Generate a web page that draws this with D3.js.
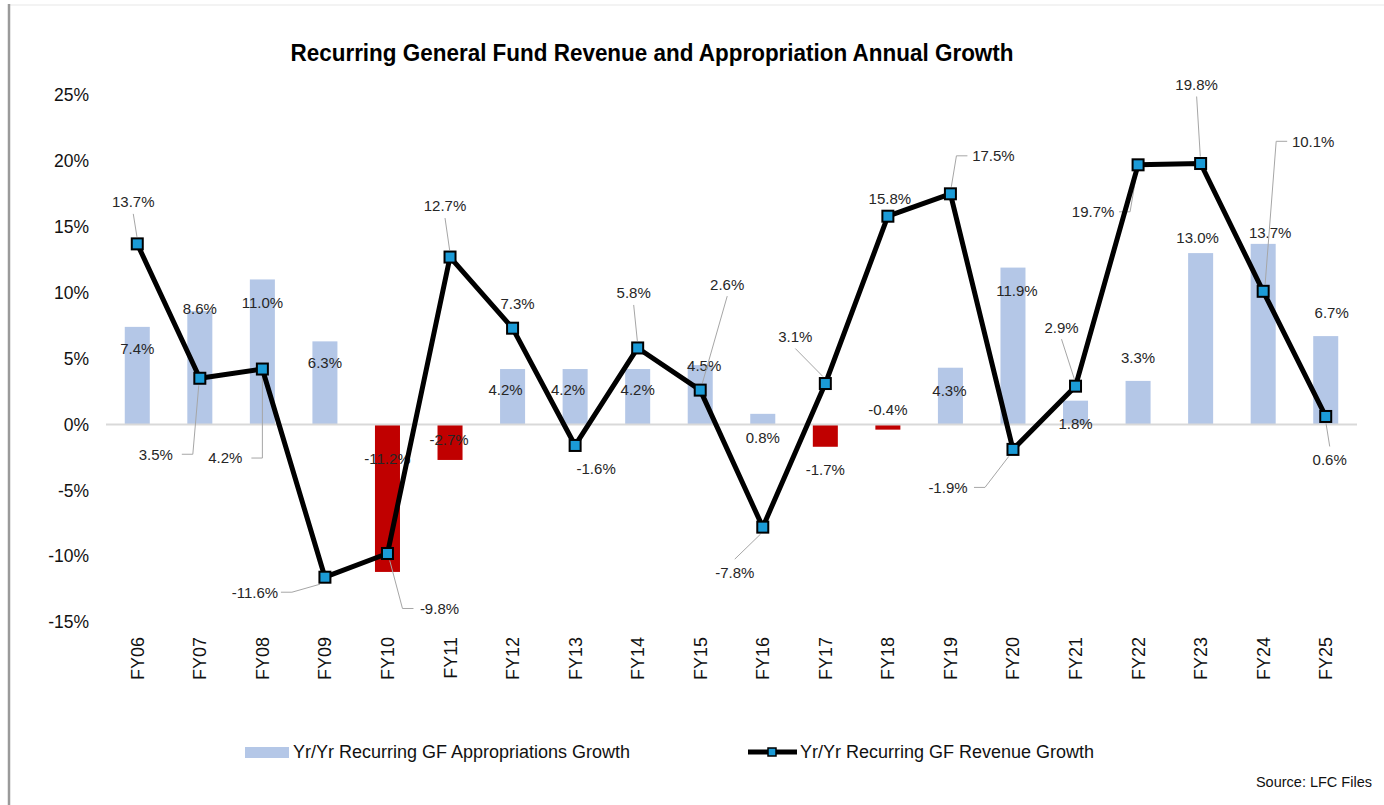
<html>
<head>
<meta charset="utf-8">
<script src="https://d3js.org/d3.v7.min.js"></script>
<style>
  body { margin: 0; background: #fff; font-family: "Liberation Sans", Arial, sans-serif; }
</style>
</head>
<body>
<svg id="chart" width="1384" height="805"></svg>
<script>
// chart values
var years = ["FY06","FY07","FY08","FY09","FY10","FY11","FY12","FY13","FY14","FY15",
             "FY16","FY17","FY18","FY19","FY20","FY21","FY22","FY23","FY24","FY25"];
var approps = [7.4, 8.6, 11.0, 6.3, -11.2, -2.7, 4.2, 4.2, 4.2, 4.5,
               0.8, -1.7, -0.4, 4.3, 11.9, 1.8, 3.3, 13.0, 13.7, 6.7];
var revenue = [13.7, 3.5, 4.2, -11.6, -9.8, 12.7, 7.3, -1.6, 5.8, 2.6,
               -7.8, 3.1, 15.8, 17.5, -1.9, 2.9, 19.7, 19.8, 10.1, 0.6];
var yTicks = [25, 20, 15, 10, 5, 0, -5, -10, -15];

// label placement (px offsets), kept apart from the values
// bar labels: [dx, dy] of text centre from bar end
var barLabelPos = [[0,22],[0,-2],[0,23],[0,21],[0,-113],[-1,-20],[-7,21],[-7,21],[0,21],[4,1],
                   [0,24],[0,23],[0,-20],[-1,23],[4,23],[0,23],[0,-23],[-3,-16],[7,-11],[6,-24]];
// line labels: [dx, dy, leader]  leader: v = straight, h = elbow from side, n = none
var revLabelPos = [[-4,-42,"v"],[-44,76,"h"],[-37,89,"h"],[-70,15,"h"],[52,55,"h"],
                   [-5,-51,"v"],[5,-25,"n"],[21,23,"n"],[-4,-55,"v"],[27,-106,"v"],
                   [-28,45,"v"],[-30,-47,"v"],[2,-18,"n"],[43,-38,"h"],[-65,38,"h"],
                   [-14,-59,"v"],[-45,47,"h"],[-4,-79,"v"],[50,-150,"h"],[4,43,"v"]];

var svg = d3.select("#chart");

// frame bits
svg.append("line").attr("x1", 10).attr("x2", 1384).attr("y1", 5).attr("y2", 5)
   .attr("stroke", "#efefef").attr("stroke-width", 1.5);
svg.append("line").attr("x1", 9).attr("x2", 9).attr("y1", 4).attr("y2", 805)
   .attr("stroke", "#9a9a9a").attr("stroke-width", 2.5);

var x = d3.scaleBand().domain(years).range([106, 1357]).padding(0);
var y = d3.scaleLinear().domain([-15, 25]).range([622, 95]);
var bw = x.bandwidth() * 0.4;
var cx = function(d) { return x(d) + x.bandwidth() / 2; };

// title
svg.append("text")
   .attr("x", 652).attr("y", 61)
   .attr("text-anchor", "middle")
   .attr("font-family", "'Liberation Sans Narrow', 'Liberation Sans', Arial, sans-serif")
   .attr("font-weight", "bold")
   .attr("font-size", 24)
   .attr("textLength", 723).attr("lengthAdjust", "spacingAndGlyphs")
   .attr("fill", "#000")
   .text("Recurring General Fund Revenue and Appropriation Annual Growth");

// y axis labels (no line, no ticks)
svg.append("g")
   .selectAll("text").data(yTicks).enter().append("text")
   .attr("x", 89).attr("y", function(d) { return y(d); })
   .attr("dy", "0.36em")
   .attr("text-anchor", "end")
   .attr("font-size", 17.5)
   .attr("fill", "#111")
   .text(function(d) { return d + "%"; });

// bars
svg.append("g").selectAll("rect").data(approps).enter().append("rect")
   .attr("x", function(d, i) { return cx(years[i]) - bw / 2; })
   .attr("y", function(d) { return d >= 0 ? y(d) : y(0); })
   .attr("width", bw)
   .attr("height", function(d) { return Math.abs(y(d) - y(0)); })
   .attr("fill", function(d) { return d >= 0 ? "#b4c7e7" : "#c00000"; });

// zero line
svg.append("line").attr("x1", 106).attr("x2", 1357).attr("y1", y(0)).attr("y2", y(0))
   .attr("stroke", "#d9d9d9").attr("stroke-width", 2);

// bar labels
svg.append("g").selectAll("text").data(approps).enter().append("text")
   .attr("x", function(d, i) { return cx(years[i]) + barLabelPos[i][0]; })
   .attr("y", function(d, i) { return y(d) + barLabelPos[i][1]; })
   .attr("dy", "0.36em")
   .attr("text-anchor", "middle")
   .attr("font-size", 15)
   .attr("fill", "#262626")
   .text(function(d) { return d.toFixed(1) + "%"; });

// leader lines for revenue labels
var leaders = svg.append("g").attr("fill", "none").attr("stroke", "#a6a6a6").attr("stroke-width", 1);
revenue.forEach(function(v, i) {
  var px = cx(years[i]), py = y(v);
  var p = revLabelPos[i];
  var lx = px + p[0], ly = py + p[1];
  var pts;
  if (p[2] === "v") {
    var sy = p[1] < 0 ? ly + 12 : ly - 13;
    var ey = p[1] < 0 ? py - 7 : py + 7;
    var ex = px + (lx - px) * 0.08;
    pts = [[lx, sy], [ex, ey]];
  } else if (p[2] === "h") {
    var side = p[0] < 0 ? 1 : -1;
    var sx = lx + side * 26;
    var kx = sx + side * 11;
    var ey2 = p[1] < 0 ? py - 7 : py + 7;
    pts = [[sx, ly], [kx, ly], [px + (kx - px) * 0.15, ey2]];
  } else {
    return;
  }
  leaders.append("path").attr("d", d3.line()(pts));
});

// revenue line
svg.append("path")
   .datum(revenue)
   .attr("fill", "none")
   .attr("stroke", "#000")
   .attr("stroke-width", 5)
   .attr("stroke-linejoin", "round")
   .attr("d", d3.line()
      .x(function(d, i) { return cx(years[i]); })
      .y(function(d) { return y(d); }));

// markers
svg.append("g").selectAll("rect").data(revenue).enter().append("rect")
   .attr("x", function(d, i) { return cx(years[i]) - 5.5; })
   .attr("y", function(d) { return y(d) - 5.5; })
   .attr("width", 11).attr("height", 11)
   .attr("fill", "#1b9bd7")
   .attr("stroke", "#000").attr("stroke-width", 2);

// revenue labels
svg.append("g").selectAll("text").data(revenue).enter().append("text")
   .attr("x", function(d, i) { return cx(years[i]) + revLabelPos[i][0]; })
   .attr("y", function(d, i) { return y(d) + revLabelPos[i][1]; })
   .attr("dy", "0.36em")
   .attr("text-anchor", "middle")
   .attr("font-size", 15)
   .attr("fill", "#262626")
   .text(function(d) { return d.toFixed(1) + "%"; });

// x axis labels, rotated
svg.append("g").selectAll("text").data(years).enter().append("text")
   .attr("transform", function(d) { return "translate(" + cx(d) + ",637) rotate(-90)"; })
   .attr("text-anchor", "end")
   .attr("dy", "0.36em")
   .attr("font-size", 18)
   .attr("fill", "#111")
   .text(function(d) { return d; });

// legend
var lg = svg.append("g");
lg.append("rect").attr("x", 245).attr("y", 747).attr("width", 44).attr("height", 11).attr("fill", "#b4c7e7");
lg.append("text").attr("x", 293).attr("y", 752).attr("dy", "0.36em")
  .attr("font-size", 18).attr("fill", "#111")
  .text("Yr/Yr Recurring GF Appropriations Growth");
lg.append("line").attr("x1", 748).attr("x2", 797).attr("y1", 752).attr("y2", 752)
  .attr("stroke", "#000").attr("stroke-width", 5);
lg.append("rect").attr("x", 768).attr("y", 748).attr("width", 8).attr("height", 8)
  .attr("fill", "#1b9bd7").attr("stroke", "#000").attr("stroke-width", 1.5);
lg.append("text").attr("x", 800).attr("y", 752).attr("dy", "0.36em")
  .attr("font-size", 18).attr("fill", "#111")
  .text("Yr/Yr Recurring GF Revenue Growth");

svg.append("text").attr("x", 1372).attr("y", 787)
   .attr("text-anchor", "end").attr("font-size", 14.5).attr("fill", "#111")
   .text("Source: LFC Files");
</script>
</body>
</html>
